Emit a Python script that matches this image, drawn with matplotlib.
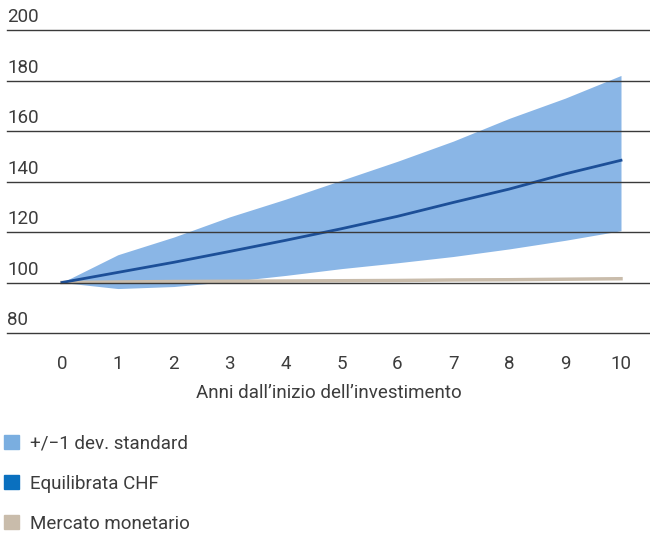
import numpy as np
import matplotlib.pyplot as plt
from matplotlib.patches import Patch
from matplotlib.transforms import blended_transform_factory

plt.rcParams['font.family'] = ['Roboto', 'DejaVu Sans']

years = [0, 1, 2, 3, 4, 5, 6, 7, 8, 9, 10]
upper = [100, 111, 118, 126, 133, 140.5, 148, 156, 165, 173, 182]
lower = [100, 97.6, 98.4, 100.4, 102.8, 105.5, 107.8, 110.3, 113.3, 116.7, 120.5]
mean = [100, 104, 108, 112.3, 116.7, 121.3, 126.2, 131.7, 137, 143, 148.4]
money = [100, 100.2, 100.4, 100.5, 100.6, 100.7, 100.8, 101, 101.1, 101.3, 101.5]
yticks = [80, 100, 120, 140, 160, 180, 200]
legend_labels = ["+/\u22121 dev. standard", "Equilibrata CHF", "Mercato monetario"]

band_color = "#8ab6e6"
mean_color = "#1c4f98"
money_color = "#c9bcab"
text_color = "#3c3c3c"
fs = 13.5

fig = plt.figure(figsize=(6.5, 5.33), dpi=100)
ax = fig.add_axes([7 / 650, 1 - 333 / 533, 643 / 650, 303 / 533])

ax.fill_between(years, lower, upper, color=band_color, linewidth=0, zorder=1)
ax.plot(years, money, color=money_color, linewidth=2.5, zorder=2)
ax.plot(years, mean, color=mean_color, linewidth=2, zorder=3)

for v in yticks:
    ax.axhline(v, color="#3a3a3a", linewidth=1, zorder=4, clip_on=False)

ax.set_xlim(-55 / 55.9, 10 + 29 / 55.9)
ax.set_ylim(80, 200)

trans = blended_transform_factory(ax.transAxes, ax.transData)
for v in yticks:
    ax.text(0, v + 1.4, str(v), transform=trans, ha="left", va="bottom",
            fontsize=fs, color=text_color)

ax.set_xticks(years)
ax.set_xticklabels([str(y) for y in years])
ax.set_yticks([])
ax.tick_params(axis="x", length=0, pad=16, labelsize=fs, labelcolor=text_color)
ax.set_xlabel("Anni dall\u2019inizio dell\u2019investimento", fontsize=fs,
              color=text_color, labelpad=8)
for s in ax.spines.values():
    s.set_visible(False)

handles = [Patch(color="#7aaee0"), Patch(color="#0a70bf"), Patch(color=money_color)]
fig.legend(handles, legend_labels, loc="upper left", bbox_to_anchor=(0.0, 1 - 431 / 533),
           frameon=False, fontsize=fs, handlelength=0.8, handleheight=0.8,
           labelspacing=1.17, handletextpad=0.6, borderaxespad=0, borderpad=0.2,
           labelcolor=text_color)

plt.savefig("out.png", dpi=100)
